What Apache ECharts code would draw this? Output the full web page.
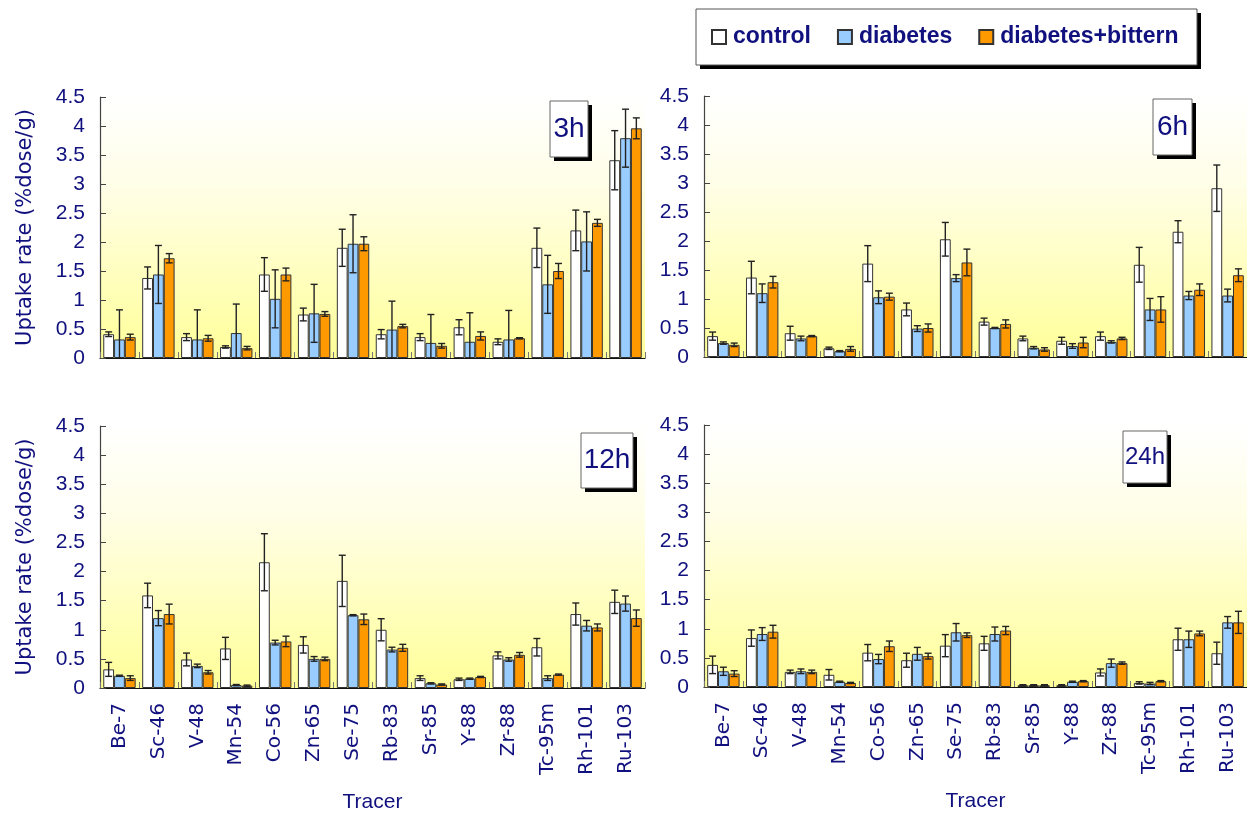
<!DOCTYPE html>
<html>
<head>
<meta charset="utf-8">
<script src="https://cdn.jsdelivr.net/npm/echarts@6/dist/echarts.min.js"></script>
<style>
  html, body { margin: 0; padding: 0; background: #fff; }
  #chart { width: 1247px; height: 814px; }
</style>
</head>
<body>
<div id="chart"></div>
<script>
// Tracer uptake (%dose/g) at four time points, mean ± SD for three groups
const tracers = ['Be-7', 'Sc-46', 'V-48', 'Mn-54', 'Co-56', 'Zn-65', 'Se-75', 'Rb-83', 'Sr-85', 'Y-88', 'Zr-88', 'Tc-95m', 'Rh-101', 'Ru-103'];
const groups = ['control', 'diabetes', 'diabetes+bittern'];
const panels = ['3h', '6h', '12h', '24h'];
const yTicks = { min: 0, max: 4.5, interval: 0.5 };

// 3h
const control3h = [0.41, 1.38, 0.36, 0.19, 1.44, 0.75, 1.90, 0.41, 0.36, 0.53, 0.28, 1.90, 2.20, 3.41];
const controlSd3h = [0.04, 0.19, 0.06, 0.02, 0.29, 0.11, 0.32, 0.08, 0.06, 0.13, 0.05, 0.34, 0.35, 0.51];
const diabetes3h = [0.32, 1.44, 0.32, 0.43, 1.02, 0.77, 1.97, 0.49, 0.26, 0.28, 0.32, 1.27, 2.01, 3.79];
const diabetesSd3h = [0.51, 0.50, 0.51, 0.50, 0.50, 0.50, 0.50, 0.49, 0.49, 0.50, 0.50, 0.50, 0.51, 0.50];
const bittern3h = [0.36, 1.72, 0.34, 0.17, 1.44, 0.76, 1.97, 0.55, 0.21, 0.38, 0.34, 1.50, 2.33, 3.96];
const bitternSd3h = [0.05, 0.08, 0.05, 0.03, 0.11, 0.04, 0.12, 0.03, 0.04, 0.07, 0.01, 0.13, 0.06, 0.18];

// 6h
const control6h = [0.36, 1.37, 0.41, 0.15, 1.61, 0.82, 2.03, 0.61, 0.32, 0.28, 0.36, 1.59, 2.16, 2.91];
const controlSd6h = [0.07, 0.28, 0.12, 0.02, 0.31, 0.11, 0.29, 0.06, 0.04, 0.06, 0.07, 0.30, 0.19, 0.40];
const diabetes6h = [0.24, 1.10, 0.32, 0.10, 1.03, 0.49, 1.36, 0.50, 0.16, 0.19, 0.26, 0.82, 1.06, 1.06];
const diabetesSd6h = [0.02, 0.16, 0.04, 0.01, 0.11, 0.05, 0.06, 0.01, 0.02, 0.04, 0.02, 0.19, 0.07, 0.11];
const bittern6h = [0.21, 1.29, 0.36, 0.14, 1.04, 0.50, 1.63, 0.57, 0.13, 0.25, 0.32, 0.82, 1.16, 1.41];
const bitternSd6h = [0.03, 0.10, 0.01, 0.04, 0.06, 0.07, 0.23, 0.07, 0.03, 0.09, 0.02, 0.22, 0.10, 0.11];

// 12h
const control12h = [0.32, 1.59, 0.49, 0.68, 2.16, 0.74, 1.84, 1.00, 0.17, 0.15, 0.56, 0.70, 1.27, 1.48];
const controlSd12h = [0.12, 0.21, 0.11, 0.19, 0.49, 0.14, 0.44, 0.19, 0.04, 0.02, 0.06, 0.15, 0.19, 0.20];
const diabetes12h = [0.21, 1.20, 0.38, 0.05, 0.78, 0.50, 1.25, 0.66, 0.08, 0.16, 0.49, 0.17, 1.07, 1.45];
const diabetesSd12h = [0.01, 0.13, 0.03, 0.01, 0.04, 0.04, 0.01, 0.04, 0.01, 0.01, 0.03, 0.04, 0.09, 0.13];
const bittern12h = [0.17, 1.27, 0.27, 0.04, 0.80, 0.50, 1.18, 0.69, 0.06, 0.19, 0.57, 0.23, 1.04, 1.20];
const bitternSd12h = [0.04, 0.17, 0.03, 0.01, 0.09, 0.03, 0.09, 0.06, 0.01, 0.01, 0.04, 0.01, 0.06, 0.14];

// 24h
const control24h = [0.38, 0.84, 0.26, 0.21, 0.59, 0.46, 0.71, 0.75, 0.03, 0.03, 0.25, 0.07, 0.82, 0.58];
const controlSd24h = [0.15, 0.14, 0.03, 0.09, 0.14, 0.12, 0.19, 0.12, 0.01, 0.01, 0.06, 0.02, 0.19, 0.19];
const diabetes24h = [0.27, 0.91, 0.27, 0.09, 0.48, 0.57, 0.94, 0.91, 0.03, 0.09, 0.41, 0.06, 0.82, 1.11];
const diabetesSd24h = [0.07, 0.11, 0.04, 0.01, 0.08, 0.11, 0.15, 0.12, 0.01, 0.01, 0.07, 0.02, 0.14, 0.10];
const bittern24h = [0.23, 0.95, 0.26, 0.07, 0.70, 0.53, 0.89, 0.97, 0.03, 0.10, 0.41, 0.10, 0.92, 1.11];
const bitternSd24h = [0.05, 0.11, 0.03, 0.01, 0.09, 0.05, 0.04, 0.07, 0.01, 0.01, 0.02, 0.01, 0.04, 0.19];

const panelData = [
  { means: [control3h, diabetes3h, bittern3h], sds: [controlSd3h, diabetesSd3h, bitternSd3h] },
  { means: [control6h, diabetes6h, bittern6h], sds: [controlSd6h, diabetesSd6h, bitternSd6h] },
  { means: [control12h, diabetes12h, bittern12h], sds: [controlSd12h, diabetesSd12h, bitternSd12h] },
  { means: [control24h, diabetes24h, bittern24h], sds: [controlSd24h, diabetesSd24h, bitternSd24h] }
];

const NAVY = '#10107f';
const FILLS = ['#ffffff', '#99ccff', '#ff9900'];
const BAR_W = 10.8;

// plot areas: top-left, top-right, bottom-left, bottom-right
const grids = [
  { left: 100, top: 97, width: 545, height: 261 },
  { left: 704, top: 96, width: 543, height: 261 },
  { left: 100, top: 426, width: 545, height: 262 },
  { left: 704, top: 425, width: 543, height: 262 }
];

// time-point tag boxes
const tagBoxes = [
  { x: 550, y: 101, w: 38, h: 56, size: 28 },
  { x: 1153, y: 99, w: 39, h: 56, size: 28 },
  { x: 581, y: 433, w: 52, h: 55, size: 28 },
  { x: 1123, y: 431, w: 44, h: 52, size: 24 }
];

// legend frame
const legendBox = { x: 696, y: 9, w: 501, h: 56 };

const plotFill = {
  type: 'linear', x: 0, y: 0, x2: 0, y2: 1,
  colorStops: [
    { offset: 0, color: '#ffffff' },
    { offset: 0.35, color: '#fffee6' },
    { offset: 1, color: '#ffff99' }
  ]
};

function shadowBox(x, y, w, h, stroke) {
  return [
    { type: 'rect', z: 0, shape: { x: x + 4, y: y + 4, width: w, height: h }, style: { fill: '#000' } },
    { type: 'rect', z: 1, shape: { x: x, y: y, width: w, height: h }, style: { fill: '#fff', stroke: stroke, lineWidth: 1 } }
  ];
}

function errorRenderer(k) {
  return function (params, api) {
    const idx = api.value(0);
    const v = api.value(1);
    const e = api.value(2);
    const hi = api.coord([idx, v + e]);
    const lowVal = v - e;
    const lo = api.coord([idx, Math.max(0, lowVal)]);
    const x = hi[0] + (k - 1) * BAR_W;
    const cap = 3.5;
    const style = { stroke: '#222', lineWidth: 1.4 };
    const children = [
      { type: 'line', shape: { x1: x, y1: hi[1], x2: x, y2: lo[1] }, style: style },
      { type: 'line', shape: { x1: x - cap, y1: hi[1], x2: x + cap, y2: hi[1] }, style: style }
    ];
    if (lowVal > 0) {
      children.push({ type: 'line', shape: { x1: x - cap, y1: lo[1], x2: x + cap, y2: lo[1] }, style: style });
    }
    return { type: 'group', children: children };
  };
}

const xAxes = [];
const yAxes = [];
const series = [];
const graphics = [{ type: 'group', children: shadowBox(legendBox.x, legendBox.y, legendBox.w, legendBox.h, '#555') }];

grids.forEach(function (g, p) {
  const bottom = p >= 2;
  const left = p % 2 === 0;
  xAxes.push({
    type: 'category',
    gridIndex: p,
    data: tracers,
    axisLine: { show: true, lineStyle: { color: '#111', width: 1.2 } },
    axisTick: { show: true, inside: true, length: 6, lineStyle: { color: '#777' } },
    axisLabel: {
      show: bottom,
      rotate: 90,
      margin: 15,
      color: NAVY,
      fontFamily: 'DejaVu Sans',
      fontSize: 20
    },
    name: bottom ? 'Tracer' : '',
    nameLocation: 'middle',
    nameGap: 104,
    nameTextStyle: { color: NAVY, fontFamily: 'Liberation Sans', fontSize: 21 }
  });
  yAxes.push({
    type: 'value',
    gridIndex: p,
    min: yTicks.min,
    max: yTicks.max,
    interval: yTicks.interval,
    splitLine: { show: false },
    axisLine: { show: true, lineStyle: { color: '#444', width: 1.2 } },
    axisTick: { show: true, inside: true, length: 6, lineStyle: { color: '#444' } },
    axisLabel: { color: NAVY, fontFamily: 'Liberation Sans', fontSize: 21, margin: 15 },
    name: left ? 'Uptake rate (%dose/g)' : '',
    nameLocation: 'middle',
    nameGap: 64,
    nameTextStyle: { color: NAVY, fontFamily: 'DejaVu Sans', fontSize: 21 }
  });

  const d = panelData[p];
  groups.forEach(function (name, k) {
    series.push({
      type: 'bar',
      name: name,
      xAxisIndex: p,
      yAxisIndex: p,
      data: d.means[k],
      barWidth: BAR_W,
      barGap: '0%',
      itemStyle: { color: FILLS[k], borderColor: '#333', borderWidth: 1 },
      emphasis: { disabled: true },
      z: 2
    });
  });
  groups.forEach(function (name, k) {
    series.push({
      type: 'custom',
      name: name,
      xAxisIndex: p,
      yAxisIndex: p,
      data: d.means[k].map(function (m, i) { return [i, m, d.sds[k][i]]; }),
      renderItem: errorRenderer(k),
      z: 5,
      silent: true
    });
  });

  const t = tagBoxes[p];
  graphics.push({
    type: 'group',
    children: shadowBox(t.x, t.y, t.w, t.h, '#666').concat([
      {
        type: 'text',
        z: 2,
        x: t.x + t.w / 2,
        y: t.y + t.h / 2,
        style: {
          text: panels[p], fill: NAVY, font: t.size + 'px "Liberation Sans"',
          align: 'center', verticalAlign: 'middle'
        }
      }
    ])
  });
});

const option = {
  backgroundColor: '#ffffff',
  animation: false,
  grid: grids.map(function (g) {
    return Object.assign({ show: true, backgroundColor: plotFill, borderWidth: 0, containLabel: false }, g);
  }),
  xAxis: xAxes,
  yAxis: yAxes,
  legend: {
    data: groups.map(function (n) { return { name: n, icon: 'rect' }; }),
    left: legendBox.x,
    top: legendBox.y,
    orient: 'horizontal',
    itemWidth: 14,
    itemHeight: 14,
    itemGap: 26,
    padding: [16, 0, 16, 15],
    backgroundColor: 'transparent',
    borderWidth: 0,
    selectedMode: false,
    z: 10,
    textStyle: {
      color: NAVY, fontFamily: 'Liberation Sans', fontWeight: 'bold',
      fontSize: 23, lineHeight: 24, padding: [0, 0, 0, 2]
    }
  },
  graphic: graphics,
  series: series
};

const chart = echarts.init(document.getElementById('chart'), null, { renderer: 'canvas' });
chart.setOption(option);
</script>
</body>
</html>
